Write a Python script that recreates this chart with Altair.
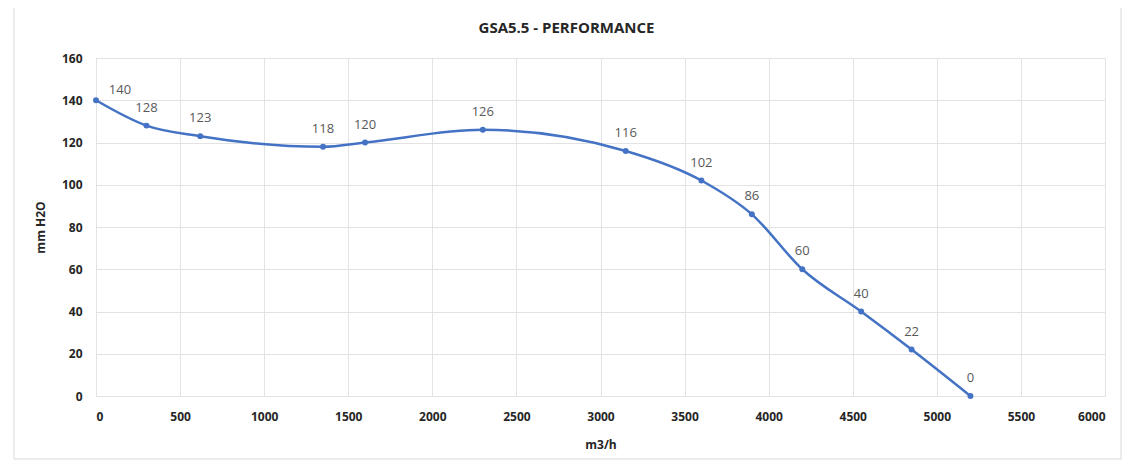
import altair as alt
import pandas as pd

flow = [0, 300, 620, 1350, 1600, 2300, 3150, 3600, 3900, 4200, 4550, 4850, 5200]
pressure = [140, 128, 123, 118, 120, 126, 116, 102, 86, 60, 40, 22, 0]

df = pd.DataFrame({"flow": flow, "pressure": pressure})
df["label"] = df["pressure"].astype(str)

FONT = "Open Sans"
BLUE = "#4472C4"

x = alt.X("flow:Q", scale=alt.Scale(domain=[0, 6000], nice=False),
          axis=alt.Axis(title="m3/h", values=list(range(0, 6001, 500)), format="d",
                        labelFontWeight="bold", labelFontSize=12, labelColor="#262626",
                        titleFontWeight="bold", titleFontSize=12, titleColor="#262626",
                        labelPadding=15, titlePadding=17, grid=True, gridColor="#e3e3e3",
                        domain=False, ticks=False, labelFont=FONT, titleFont=FONT))
y = alt.Y("pressure:Q", scale=alt.Scale(domain=[0, 160], nice=False),
          axis=alt.Axis(title="mm H2O", values=list(range(0, 161, 20)),
                        labelFontWeight="bold", labelFontSize=12, labelColor="#262626",
                        titleFontWeight="bold", titleFontSize=12, titleColor="#262626",
                        labelPadding=14, titlePadding=14, grid=True, gridColor="#e3e3e3",
                        domain=False, ticks=False, labelFont=FONT, titleFont=FONT))

base = alt.Chart(df)

line = base.mark_line(color=BLUE, strokeWidth=2.5, interpolate="monotone").encode(x=x, y=y)
pts = base.mark_point(color=BLUE, filled=True, size=35, opacity=1).encode(x=x, y=y)

lbl_first = base.transform_filter("datum.flow == 0").mark_text(
    dx=24, dy=-10, fontSize=13, color="#595959", font=FONT
).encode(x=x, y=y, text="label:N")
lbl_rest = base.transform_filter("datum.flow > 0").mark_text(
    dy=-18, fontSize=13, color="#595959", font=FONT
).encode(x=x, y=y, text="label:N")

frame = alt.Chart(pd.DataFrame({"a": [0]})).mark_rect(
    filled=False, stroke="#d9d9d9", strokeWidth=1
).encode(x=alt.value(-82), x2=alt.value(1025), y=alt.value(-53), y2=alt.value(401))

chart = alt.layer(frame, line, pts, lbl_first, lbl_rest).properties(
    width=1009, height=338,
    title=alt.TitleParams("GSA5.5 - PERFORMANCE", fontSize=15, fontWeight="bold",
                          color="#262626", font=FONT, offset=0, frame="group",
                          dx=-34, dy=31),
    autosize=alt.AutoSizeParams(type="none"),
    padding={"left": 88, "top": 50, "right": 22, "bottom": 64},
).configure_view(stroke=None).configure(background="white")

chart.save("out.html", embed_options={"renderer": "svg", "actions": False})
